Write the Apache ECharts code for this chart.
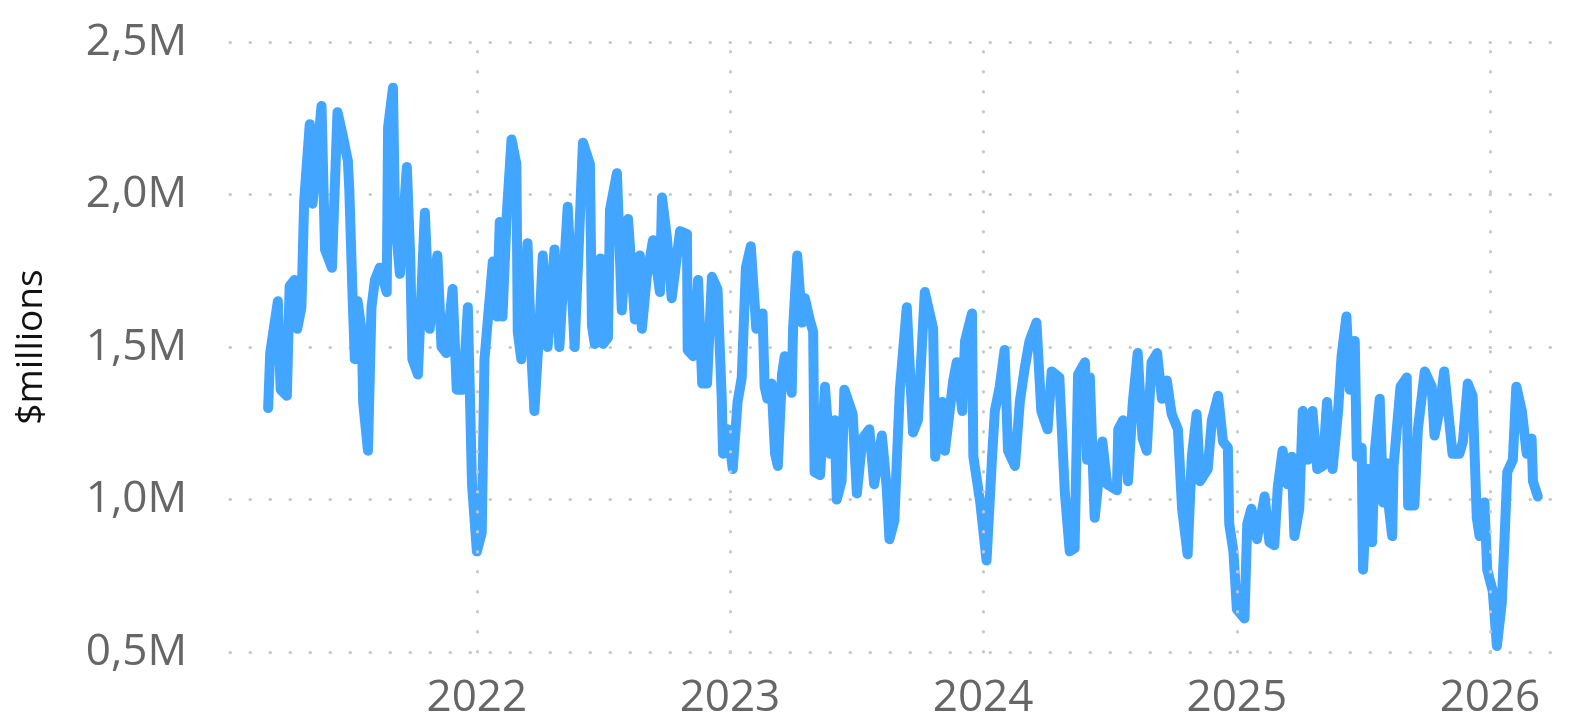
<!DOCTYPE html>
<html>
<head>
<meta charset="utf-8">
<script src="https://cdn.jsdelivr.net/npm/echarts@6/dist/echarts.min.js"></script>
<style>
  html, body { margin: 0; padding: 0; background: #fff; }
  #chart { width: 1575px; height: 722px; }
</style>
</head>
<body>
<div id="chart"></div>
<script>
// readings, values in $ millions
var dates = [
  '2021-03-06','2021-03-09','2021-03-20','2021-03-24','2021-04-02','2021-04-06','2021-04-13','2021-04-17','2021-04-23','2021-04-27',
  '2021-05-05','2021-05-09','2021-05-22','2021-05-27','2021-06-06','2021-06-14','2021-06-21','2021-06-29','2021-07-01','2021-07-06',
  '2021-07-09','2021-07-13','2021-07-19','2021-07-21','2021-07-28','2021-08-02','2021-08-07','2021-08-14','2021-08-24','2021-08-26',
  '2021-09-02','2021-09-05','2021-09-12','2021-09-22','2021-09-27','2021-09-30','2021-10-08','2021-10-18','2021-10-25','2021-11-05',
  '2021-11-11','2021-11-18','2021-11-27','2021-12-03','2021-12-12','2021-12-19','2021-12-25','2022-01-01','2022-01-08','2022-01-12',
  '2022-01-24','2022-01-30','2022-02-03','2022-02-07','2022-02-13','2022-02-20','2022-02-27','2022-03-01','2022-03-06','2022-03-15',
  '2022-03-21','2022-03-25','2022-04-02','2022-04-06','2022-04-13','2022-04-23','2022-04-30','2022-05-12','2022-05-22','2022-06-03',
  '2022-06-13','2022-06-16','2022-06-20','2022-06-28','2022-07-02','2022-07-09','2022-07-12','2022-07-22','2022-07-29','2022-08-07',
  '2022-08-17','2022-08-24','2022-08-27','2022-09-03','2022-09-12','2022-09-22','2022-09-25','2022-10-02','2022-10-09','2022-10-21',
  '2022-10-31','2022-11-01','2022-11-09','2022-11-16','2022-11-22','2022-11-29','2022-12-06','2022-12-14','2022-12-20','2022-12-22',
  '2022-12-29','2023-01-05','2023-01-12','2023-01-18','2023-01-24','2023-01-31','2023-02-08','2023-02-17','2023-02-20','2023-02-24',
  '2023-03-02','2023-03-07','2023-03-11','2023-03-17','2023-03-21','2023-03-31','2023-04-02','2023-04-08','2023-04-15','2023-04-19',
  '2023-04-26','2023-05-01','2023-05-03','2023-05-11','2023-05-18','2023-05-25','2023-06-01','2023-06-04','2023-06-11','2023-06-15',
  '2023-06-27','2023-07-03','2023-07-11','2023-07-21','2023-07-28','2023-08-08','2023-08-15','2023-08-19','2023-08-26','2023-09-03',
  '2023-09-13','2023-09-22','2023-09-29','2023-10-09','2023-10-21','2023-10-24','2023-11-03','2023-11-07','2023-11-19','2023-11-24',
  '2023-12-02','2023-12-06','2023-12-16','2023-12-18','2023-12-28','2024-01-06','2024-01-14','2024-01-18','2024-01-25','2024-02-01',
  '2024-02-06','2024-02-16','2024-02-23','2024-03-01','2024-03-08','2024-03-18','2024-03-25','2024-04-03','2024-04-09','2024-04-20',
  '2024-04-28','2024-05-05','2024-05-12','2024-05-17','2024-05-27','2024-05-30','2024-06-03','2024-06-10','2024-06-14','2024-06-21',
  '2024-06-28','2024-07-12','2024-07-14','2024-07-21','2024-07-28','2024-08-04','2024-08-11','2024-08-18','2024-08-24','2024-08-31',
  '2024-09-08','2024-09-15','2024-09-22','2024-09-29','2024-10-08','2024-10-14','2024-10-22','2024-10-28','2024-11-04','2024-11-09',
  '2024-11-20','2024-11-26','2024-12-05','2024-12-12','2024-12-19','2024-12-21','2024-12-27','2025-01-01','2025-01-12','2025-01-16',
  '2025-01-22','2025-01-30','2025-02-10','2025-02-17','2025-02-24','2025-03-01','2025-03-08','2025-03-15','2025-03-21','2025-03-25',
  '2025-04-01','2025-04-06','2025-04-13','2025-04-20','2025-04-27','2025-05-05','2025-05-11','2025-05-19','2025-05-27','2025-06-01',
  '2025-06-08','2025-06-13','2025-06-20','2025-06-23','2025-06-30','2025-07-02','2025-07-09','2025-07-15','2025-07-19','2025-07-26',
  '2025-07-31','2025-08-04','2025-08-08','2025-08-13','2025-08-15','2025-08-25','2025-09-03','2025-09-05','2025-09-14','2025-09-19',
  '2025-09-29','2025-10-09','2025-10-13','2025-10-20','2025-10-27','2025-11-04','2025-11-08','2025-11-18','2025-11-23','2025-11-30',
  '2025-12-07','2025-12-13','2025-12-17','2025-12-24','2025-12-28','2026-01-05','2026-01-11','2026-01-18','2026-01-22','2026-01-26',
  '2026-02-03','2026-02-08','2026-02-16','2026-02-23','2026-03-02','2026-03-04','2026-03-11'
];
var values = [
  1.30,1.48,1.65,1.36,1.34,1.70,1.72,1.56,1.63,1.98,
  2.23,1.97,2.29,1.82,1.76,2.27,2.20,2.11,2.02,1.65,
  1.46,1.65,1.55,1.32,1.16,1.63,1.72,1.76,1.68,2.22,
  2.35,1.92,1.74,2.09,1.79,1.46,1.41,1.94,1.56,1.80,
  1.50,1.48,1.69,1.36,1.36,1.63,1.05,0.83,0.89,1.46,
  1.78,1.60,1.91,1.60,1.93,2.18,2.10,1.55,1.46,1.84,
  1.46,1.29,1.60,1.80,1.50,1.82,1.50,1.96,1.50,2.17,
  2.10,1.57,1.51,1.79,1.51,1.53,1.95,2.07,1.62,1.92,
  1.59,1.80,1.56,1.73,1.85,1.68,1.99,1.86,1.66,1.88,
  1.87,1.49,1.47,1.72,1.38,1.38,1.73,1.69,1.34,1.15,
  1.23,1.10,1.32,1.40,1.76,1.83,1.56,1.61,1.37,1.33,
  1.38,1.15,1.11,1.41,1.47,1.35,1.56,1.80,1.58,1.66,
  1.59,1.55,1.09,1.08,1.37,1.15,1.26,1.00,1.06,1.36,
  1.28,1.02,1.20,1.23,1.05,1.21,1.04,0.87,0.93,1.36,
  1.63,1.22,1.26,1.68,1.56,1.14,1.32,1.16,1.39,1.45,
  1.29,1.52,1.61,1.14,0.99,0.80,1.14,1.29,1.37,1.49,
  1.16,1.11,1.32,1.43,1.52,1.58,1.29,1.23,1.42,1.40,
  1.02,0.83,0.84,1.41,1.45,1.13,1.40,0.94,1.03,1.19,
  1.05,1.03,1.23,1.26,1.06,1.32,1.48,1.20,1.16,1.45,
  1.48,1.33,1.39,1.28,1.23,0.97,0.82,1.14,1.28,1.06,
  1.10,1.26,1.34,1.19,1.17,0.92,0.83,0.64,0.61,0.92,
  0.97,0.87,1.01,0.86,0.85,1.04,1.16,1.05,1.14,0.88,
  0.97,1.29,1.13,1.29,1.10,1.11,1.32,1.10,1.29,1.47,
  1.60,1.36,1.52,1.14,1.17,0.77,1.10,0.86,1.16,1.33,
  0.99,1.12,0.98,0.88,1.11,1.37,1.40,0.98,0.98,1.23,
  1.42,1.37,1.21,1.29,1.42,1.24,1.15,1.15,1.19,1.38,
  1.34,0.94,0.88,0.99,0.77,0.70,0.52,0.66,0.87,1.09,
  1.13,1.37,1.29,1.15,1.20,1.06,1.01
];
// year boundaries that get a label and a dotted gridline
var yearTicks = ['2022-01-01', '2023-01-01', '2024-01-01', '2025-01-01', '2026-01-01'];

var myChart = echarts.init(document.getElementById('chart'));
var seriesData = [];
for (var i = 0; i < dates.length; i++) {
  seriesData.push([dates[i], values[i]]);
}
var yearLines = [];
for (var j = 0; j < yearTicks.length; j++) {
  yearLines.push({ xAxis: yearTicks[j] });
}
var dotted = {
  color: '#c8c8c8',
  width: 3,
  type: [0.5, 19.5],
  cap: 'round'
};

var option = {
  animation: false,
  grid: {
    left: 230,
    right: 15,
    top: 42,
    bottom: 70
  },
  xAxis: {
    type: 'time',
    min: '2021-01-10',
    max: '2026-04-12',
    axisLine: { show: false },
    axisTick: { show: false },
    splitLine: { show: false },
    axisLabel: {
      color: '#666666',
      fontSize: 44,
      fontFamily: 'Open Sans',
      margin: 24,
      showMinLabel: false,
      showMaxLabel: false,
      formatter: function(val) {
        var d = new Date(val);
        if (d.getMonth() === 0 && d.getDate() === 1) return String(d.getFullYear());
        return '';
      }
    }
  },
  yAxis: {
    type: 'value',
    min: 0.5,
    max: 2.5,
    interval: 0.5,
    name: '$millions',
    nameLocation: 'middle',
    nameGap: 180,
    nameTextStyle: {
      color: '#111111',
      fontSize: 37,
      fontFamily: 'Open Sans'
    },
    axisLine: { show: false },
    axisTick: { show: false },
    splitLine: { show: true, lineStyle: dotted },
    axisLabel: {
      color: '#666666',
      fontSize: 44,
      fontFamily: 'Open Sans',
      margin: 43,
      formatter: function(v) {
        return v.toFixed(1).replace('.', ',') + 'M';
      }
    }
  },
  series: [{
    type: 'line',
    data: seriesData,
    showSymbol: false,
    smooth: false,
    lineStyle: {
      color: '#42a5ff',
      width: 10,
      join: 'round',
      cap: 'round'
    },
    markLine: {
      silent: true,
      symbol: ['none', 'none'],
      label: { show: false },
      lineStyle: dotted,
      data: yearLines
    }
  }]
};
myChart.setOption(option);
</script>
</body>
</html>
